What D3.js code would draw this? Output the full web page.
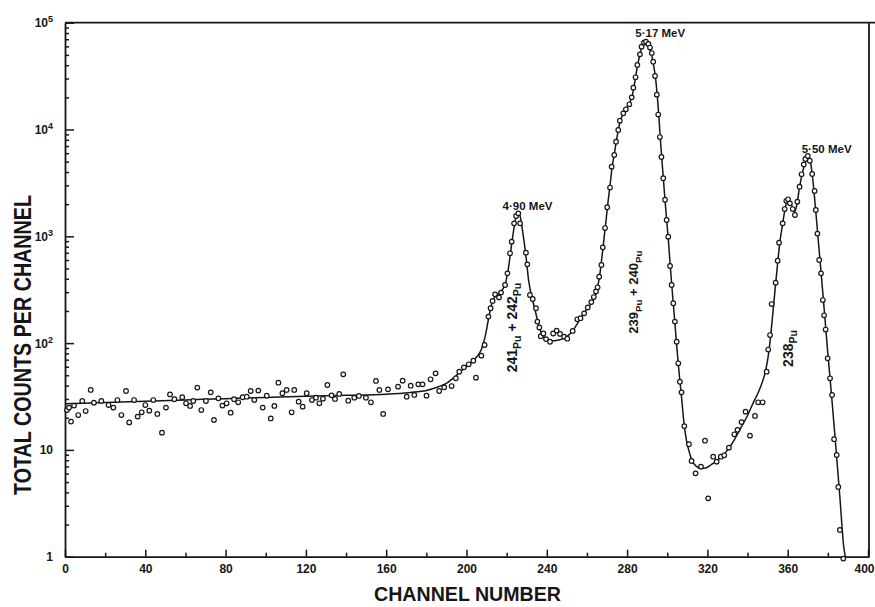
<!DOCTYPE html>
<html><head><meta charset="utf-8">
<script src="https://cdn.jsdelivr.net/npm/d3@7"></script>
<style>body{margin:0;background:#fff} svg{display:block}</style>
</head><body>
<svg id="chart" width="875" height="607"></svg>
<script>
// ---- data (channel, total counts per channel) ----
const pointChannels = [1,2,3,4.5,6.6,8.6,10.3,12.8,14.4,18.1,21.7,24.1,26.1,28.1,30.4,32,34.4,36.2,38.2,40,42,44,46,48.3,50.3,52.3,54.5,58.4,60.3,62.3,63.9,65.9,67.9,70.2,72.6,74.2,76.4,78.4,80.5,82.5,84.2,86.3,88.5,90.5,92.5,94.3,96.3,98.5,100.5,102.5,104.3,106.3,108.3,110.4,112.9,114.2,116.4,118.4,120.4,123,125,126.7,128.5,130.7,132.8,134.5,136.6,138.6,141.1,144.1,146.4,149.9,152.4,154.9,156.6,158.5,160.9,165.9,168.2,170.2,172.2,174.0,176.0,178.1,180.1,182.1,184.6,186.4,188.9,192.6,194.7,196.4,198.7,201.1,203.4,204.7,207.4,209.0,210.9,212.0,213.0,214.2,216.2,217.2,219.2,220.4,221.7,222.5,223.7,224.7,225.8,226.7,229.6,230.3,231.6,233.0,234.6,235.3,236.3,237.0,238.3,239.6,241.6,243.2,244.9,246.6,248.6,250.2,252.9,255.2,256.8,258.6,260.4,262.2,263.4,264.5,265.3,266.1,267.2,267.9,269.0,270.1,271.5,272.3,273.6,274.5,275.6,276.4,278.1,279.4,281.1,282.3,283.1,284.2,285.1,286.4,287.2,288.4,289.4,290.6,291.4,292.3,293.0,293.9,294.8,295.5,296.3,297.1,298.0,298.9,299.7,300.5,301.4,302.2,303.0,303.8,304.7,305.5,306.3,307.1,308.5,310.8,312.1,314.1,316.8,318.8,320.4,322.9,324.6,326.7,328.4,330.7,333.4,335.0,337.0,339.0,341.2,343.7,345.3,347.5,349.5,350.3,351.2,352.0,354.0,355.0,355.7,357.5,358.5,359.3,360.2,361.1,362.5,363.6,364.8,365.9,366.9,368.0,368.8,370.0,371.0,372.2,373.4,374.0,374.8,375.7,376.6,377.5,378.1,378.9,379.9,381.1,382.1,383.1,384.4,385.2,386.0,387.7];
const pointCounts = [23.6,24.9,18.4,26.0,21.2,28.7,23.1,36.4,27.7,28.7,26.3,24.9,29.3,21.2,35.6,18.1,29.3,20.5,22.5,26.3,23.3,29.3,21.7,14.5,24.9,33.1,29.8,31.1,27.3,25.8,28.7,38.3,23.6,28.7,34.6,19.1,30.4,26.0,27.3,22.3,29.8,27.9,31.1,31.5,35.6,29.3,35.9,24.9,32.2,19.7,25.8,42.6,33.9,36.4,22.5,36.4,28.3,25.4,33.9,29.3,30.8,27.3,30.2,40.5,32.4,30.0,33.4,51.0,28.9,30.8,32.0,30.8,27.9,44.2,36.4,21.7,36.9,39.1,44.5,31.5,39.9,32.7,41.1,41.1,32.2,45.8,52.1,35.6,38.5,39.6,46.8,54.0,59.3,63.3,68.5,47.5,76.3,96.0,177,212,248,286,268,297,350,450,693,891,1322,1549,1641,1322,703,546,282,259,212,159,140,116,123,109,103,123,131,122,115,110,130,167,171,190,216,242,270,305,333,419,539,788,1195,1870,2860,4487,5770,7690,9890,12100,14170,15450,17210,20000,24650,30800,40180,50550,59650,65010,66450,63180,58500,52000,43150,31700,21200,13800,8500,5530,3500,2200,1421,992,527,350,236,159,103,64.7,43.5,34.6,16.7,11.3,7.87,6.03,6.97,12.2,3.52,8.64,7.76,8.64,8.9,10.5,14.0,15.4,18.2,22.8,13.6,20.8,27.9,27.9,54,87,119,232,368,591,872,1322,1800,2150,2220,2035,1800,1583,2110,2915,3805,4700,5300,5650,5100,3830,2660,1763,1060,600,450,253,182,134,72,46.8,32.7,12.6,8.96,4.5,1.78,0.96];

// fitted curve
const fitChannels = [0,20,40,60,80,100,120,140,160,172,180,186,190,194,198,202,205,207.5,209.5,211,212.5,214,216,218,219.5,221,222.5,224,225.5,226.5,228,229.5,231,232.5,234,235.5,237,239,242,246,249,252,255,258,261,263,264.5,265.5,266.5,267.5,268.5,269.5,270.5,271.5,272.5,273.5,274.5,275.5,276.5,278,279.5,281,282.5,284,285,286,287,288,289.2,290.3,291.2,292.2,293.2,294.2,295,295.8,296.6,297.4,298.2,299,299.8,300.6,301.4,302.2,303,303.8,304.6,305.5,306.3,307.2,308.3,309.5,311,312.5,314.5,317,319.5,322,325,328,331,334,337,340,343,345.5,347.5,349,350.5,352,353.2,354.5,356,357.5,358.7,359.8,361,362.5,363.5,364.5,365.8,367,368.3,369.5,370.5,371.3,372.5,374,375.5,377,378.5,380,382,384,386,388,388.7];
const fitCounts = [27,27.8,28.6,29.4,30.2,31,31.8,32.4,33.2,34.5,36,39,42,48,56,65,74,88,120,170,230,268,288,318,370,520,850,1300,1680,1600,1100,680,380,270,210,160,128,112,105,107,112,124,150,185,220,250,290,350,450,650,950,1400,2100,3000,4400,5700,7500,9600,11800,14000,15600,17300,20500,29000,38000,47000,56000,63000,66500,64000,58000,50000,40000,30000,21000,13500,8000,5000,3200,2050,1350,900,560,360,235,155,100,64,44,30,18,12.5,9.5,7.8,7,6.7,6.8,7.3,8,9,10.5,13,16.5,21,28,35,44,55,80,145,250,450,850,1320,1800,2150,2100,1850,1700,1950,2800,3700,4600,5300,5600,5000,3400,1700,800,380,175,80,30,10.5,3.6,1.2,1];

// axes
const xMajorTicks = [0,40,80,120,160,200,240,280,320,360,400];
const xMinorTicks = [20,60,100,140,180,220,260,300,340,380];
const yMajorTicks = [1,10,100,1000,10000,100000];
const yTickBase = ["1","10","10","10","10","10"];
const yTickSup  = ["","","2","3","4","5"];
const xTitle = "CHANNEL NUMBER";
const yTitle = "TOTAL COUNTS PER CHANNEL";

// annotations (anchored in data units)
const peakLabelText = ["4\u00B790 MeV","5\u00B717 MeV","5\u00B750 MeV"];
const peakLabelChannel = [230.4, 296.5, 379.4];
const peakLabelCount = [1782, 73000, 6065];
const isoLabelParts = [
  [["241",0],["Pu",1],[" + 242",0],["Pu",1]],
  [["239",0],["Pu",1],[" + 240",0],["Pu",1]],
  [["238",0],["Pu",1]]
];
const isoLabelChannel = [225.2, 285.4, 362.6];
const isoLabelCount = [140, 300, 89];
const isoLabelSize = [14, 13, 14];

// ---- drawing ----
const ink = "#161616";
const font = "'Liberation Sans', Arial, sans-serif";
const svg = d3.select("#chart");
const x = d3.scaleLinear().domain([0,400]).range([65,868]);
const y = d3.scaleLog().domain([1,1e5]).range([556.7,22.7]);
const X0 = x(0), X1 = x(400), Y0 = y(1), Y1 = y(1e5);

// frame top & right
svg.append("line").attr("x1",X0).attr("x2",875).attr("y1",Y1).attr("y2",Y1)
  .attr("stroke",ink).attr("stroke-width",1.8);
svg.append("line").attr("x1",X1+1).attr("x2",X1+1).attr("y1",Y1).attr("y2",Y0+1)
  .attr("stroke",ink).attr("stroke-width",1.8);

// x axis
const gx = svg.append("g").attr("transform",`translate(0,${Y0})`);
gx.call(d3.axisBottom(x).tickValues(xMajorTicks).tickSize(-7).tickSizeOuter(0).tickPadding(8)
  .tickFormat(d3.format("d")));
const gxm = svg.append("g").attr("transform",`translate(0,${Y0})`);
gxm.call(d3.axisBottom(x).tickValues(xMinorTicks).tickSize(-4).tickSizeOuter(0).tickFormat(""));
gxm.select(".domain").remove();

// y axis
const yMinor = [];
for (let k=0;k<5;k++) for (let m=2;m<=9;m++) yMinor.push(m*Math.pow(10,k));
const gy = svg.append("g").attr("transform",`translate(${X0},0)`);
gy.call(d3.axisLeft(y).tickValues(yMajorTicks).tickSize(-9).tickSizeOuter(0).tickFormat(""));
const gym = svg.append("g").attr("transform",`translate(${X0},0)`);
gym.call(d3.axisLeft(y).tickValues(yMinor).tickSize(-4).tickSizeOuter(0).tickFormat(""));
gym.select(".domain").remove();

svg.selectAll(".domain").attr("stroke",ink).attr("stroke-width",1.8);
svg.selectAll(".tick line").attr("stroke",ink).attr("stroke-width",1.5);
gx.selectAll(".tick text").attr("font-family",font).attr("font-weight","bold")
  .attr("font-size",12).attr("fill",ink);
// keep the last label ("400") inside the picture
gx.selectAll(".tick").filter(d=>d===400).select("text")
  .attr("text-anchor","end").attr("x",6);

// y tick labels with superscripts
yMajorTicks.forEach((v,i)=>{
  const t = svg.append("text").attr("x",53).attr("y",y(v)+4.5)
    .attr("text-anchor","end").attr("font-family",font).attr("font-weight","bold")
    .attr("font-size",12).attr("fill",ink);
  t.append("tspan").text(yTickBase[i]);
  if (yTickSup[i]) t.append("tspan").attr("dy",-5).attr("font-size",9).text(yTickSup[i]);
});

// titles
svg.append("text").attr("x",(X0+X1)/2+1).attr("y",601)
  .attr("text-anchor","middle").attr("font-family",font).attr("font-weight","bold")
  .attr("font-size",21).attr("fill",ink)
  .attr("textLength",187).attr("lengthAdjust","spacingAndGlyphs").text(xTitle);
svg.append("text").attr("transform","translate(31,345) rotate(-90)")
  .attr("text-anchor","middle").attr("font-family",font).attr("font-weight","bold")
  .attr("font-size",23).attr("fill",ink)
  .attr("textLength",300).attr("lengthAdjust","spacingAndGlyphs").text(yTitle);

// fitted curve
const fit = fitChannels.map((c,i)=>[c,fitCounts[i]]);
svg.append("path").datum(fit)
  .attr("d", d3.line().x(d=>x(d[0])).y(d=>y(d[1])).curve(d3.curveMonotoneX))
  .attr("fill","none").attr("stroke",ink).attr("stroke-width",1.5);

// data points
const pts = pointChannels.map((c,i)=>[c,pointCounts[i]]);
svg.append("g").selectAll("circle").data(pts).join("circle")
  .attr("cx",d=>x(d[0])).attr("cy",d=>y(d[1])).attr("r",2.3)
  .attr("fill","#fff").attr("stroke",ink).attr("stroke-width",1.2);

// peak labels
peakLabelText.forEach((s,i)=>{
  svg.append("text").attr("x",x(peakLabelChannel[i])).attr("y",y(peakLabelCount[i]))
    .attr("text-anchor","middle").attr("font-family",font).attr("font-weight","bold")
    .attr("font-size",11.5).attr("fill",ink).text(s);
});

// isotope labels (rotated)
isoLabelParts.forEach((parts,i)=>{
  const fs = isoLabelSize[i];
  const t = svg.append("text")
    .attr("transform",`translate(${x(isoLabelChannel[i])},${y(isoLabelCount[i])}) rotate(-90)`)
    .attr("text-anchor","middle").attr("font-family",font).attr("font-weight","bold")
    .attr("font-size",fs).attr("fill",ink);
  let sub = false;
  parts.forEach(([s,isSub])=>{
    const sp = t.append("tspan").text(s);
    if (isSub && !sub) { sp.attr("dy",4).attr("font-size",fs*0.75); sub = true; }
    else if (!isSub && sub) { sp.attr("dy",-4); sub = false; }
  });
});
</script>
</body></html>
